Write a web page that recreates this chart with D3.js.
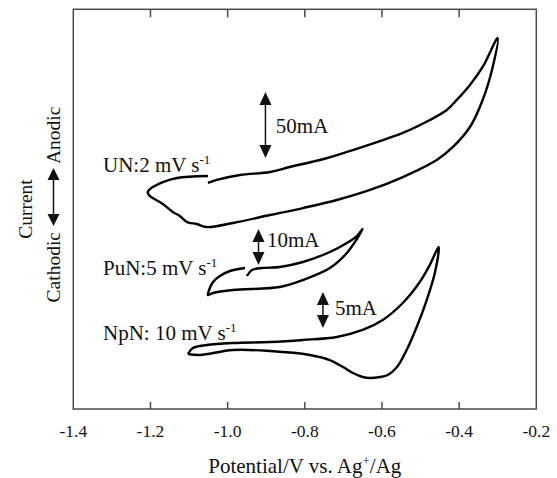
<!DOCTYPE html>
<html lang="en">
<head>
<meta charset="utf-8">
<title>Cyclic voltammograms: UN, PuN, NpN</title>
<style>
  body { margin: 0; background: #fff; }
  text { font-family: "Liberation Serif", "Times New Roman", serif; fill: #111; }
</style>
</head>
<body>
<div id="chart"></div>
<script src="https://d3js.org/d3.v7.min.js"></script>
<script>
// x axis
var potTicks = [-1.4, -1.2, -1.0, -0.8, -0.6, -0.4, -0.2];
var tickLabels = ['-1.4', '-1.2', '-1.0', '-0.8', '-0.6', '-0.4', '-0.2'];

// UN, 2 mV/s  (potential V, current mA from an arbitrary zero)
var unV = [-1.051, -1.028, -0.968, -0.890, -0.839, -0.761, -0.691, -0.613, -0.546, -0.476, -0.432, -0.406, -0.372, -0.339, -0.300,
           -0.313, -0.339, -0.372, -0.416, -0.458, -0.546, -0.631, -0.717, -0.805, -0.890, -0.986, -1.054, -1.080, -1.105, -1.124,
           -1.142, -1.168, -1.194, -1.204, -1.207, -1.201, -1.194, -1.168, -1.131, -1.051];
var unI = [12.9, 15.2, 18.9, 21.2, 25.0, 30.3, 36.4, 43.9, 50.8, 60.6, 68.2, 75.8, 87.1, 100.8, 122.7,
           100.8, 75.8, 55.3, 40.2, 30.3, 17.4, 7.6, 0, -6.1, -11.4, -17.4, -20.5, -18.2, -16.7, -12.1,
           -9.1, -3.0, 1.5, 3.8, 6.1, 8.3, 9.8, 13.6, 16.7, 18.2];

// PuN, 5 mV/s
var puV = [-0.950, -0.937, -0.911, -0.865, -0.805, -0.735, -0.691, -0.665, -0.650,
           -0.665, -0.691, -0.735, -0.805, -0.865, -0.986, -1.038, -1.051,
           -1.048, -1.038, -1.020, -0.994, -0.955];
var puI = [1.11, 2.78, 3.33, 3.61, 5.0, 7.78, 10.28, 12.22, 14.17,
           11.39, 7.5, 3.33, 0, -1.94, -2.78, -3.61, -4.17,
           -2.78, -0.56, 1.11, 2.5, 3.33];

// NpN, 10 mV/s
var npV = [-1.103, -1.090, -1.054, -0.986, -0.890, -0.805, -0.717, -0.650, -0.598, -0.546, -0.502, -0.476, -0.453,
           -0.463, -0.484, -0.510, -0.536, -0.561, -0.585, -0.605, -0.631, -0.650, -0.675, -0.701, -0.735, -0.787,
           -0.890, -0.986, -1.072, -1.103];
var npI = [-0.56, 0.28, 0.69, 0.97, 1.11, 1.39, 1.81, 2.78, 4.17, 6.53, 9.44, 11.81, 14.31,
           10.69, 6.94, 3.19, 0, -2.36, -3.47, -3.75, -3.89, -3.75, -3.19, -2.36, -1.39, -0.69,
           -0.14, 0, -0.69, -0.56];

var width = 557, height = 478;
var plotL = 73.3, plotR = 536.3, plotT = 9.3, plotB = 409;

var svg = d3.select('#chart').append('svg')
  .attr('width', width)
  .attr('height', height);

var x = d3.scaleLinear().domain([-1.4, -0.2]).range([plotL, plotR]);

// each trace is offset on the page and has its own current scale
var unY = d3.scaleLinear().domain([0, 50]).range([200, 134]);
var puY = d3.scaleLinear().domain([0, 10]).range([280, 244]);
var npY = d3.scaleLinear().domain([0, 5]).range([350, 314]);

var frameColor = '#4a4a4a';

svg.append('rect')
  .attr('x', plotL).attr('y', plotT)
  .attr('width', plotR - plotL).attr('height', plotB - plotT)
  .attr('fill', 'none')
  .attr('stroke', frameColor)
  .attr('stroke-width', 1.5);

// inward ticks, bottom and top
var inner = potTicks.slice(1, -1);
svg.selectAll('.tickb').data(inner).enter().append('line')
  .attr('x1', function(d) { return x(d); }).attr('x2', function(d) { return x(d); })
  .attr('y1', plotB).attr('y2', plotB - 7)
  .attr('stroke', frameColor).attr('stroke-width', 1.5);
svg.selectAll('.tickt').data(inner).enter().append('line')
  .attr('x1', function(d) { return x(d); }).attr('x2', function(d) { return x(d); })
  .attr('y1', plotT).attr('y2', plotT + 8)
  .attr('stroke', frameColor).attr('stroke-width', 1.5);

svg.selectAll('.ticklabel').data(potTicks).enter().append('text')
  .attr('x', function(d) { return x(d); })
  .attr('y', 437)
  .attr('text-anchor', 'middle')
  .style('font-size', '17.5px')
  .text(function(d, i) { return tickLabels[i]; });

// x title
var xt = svg.append('text')
  .attr('x', (plotL + plotR) / 2).attr('y', 473)
  .attr('text-anchor', 'middle')
  .style('font-size', '21px');
xt.append('tspan').text('Potential/V vs. Ag');
xt.append('tspan').attr('dy', -8).style('font-size', '13px').text('+');
xt.append('tspan').attr('dy', 8).text('/Ag');

// y title
svg.append('text')
  .attr('transform', 'translate(32,209) rotate(-90)')
  .attr('text-anchor', 'middle')
  .style('font-size', '19.5px')
  .text('Current');

var yt = svg.append('g').attr('transform', 'translate(60,197) rotate(-90)');
yt.append('text').attr('x', -35).attr('text-anchor', 'end').style('font-size', '19.5px').text('Cathodic');
yt.append('text').attr('x', 33).attr('text-anchor', 'start').style('font-size', '19.5px').text('Anodic');
yt.append('line').attr('x1', -22).attr('x2', 22).attr('y1', -6.5).attr('y2', -6.5)
  .attr('stroke', '#111').attr('stroke-width', 1.5);
yt.append('path').attr('d', 'M-29,-6.5 L-17,-12.5 L-17,-0.5 Z').attr('fill', '#111');
yt.append('path').attr('d', 'M29,-6.5 L17,-12.5 L17,-0.5 Z').attr('fill', '#111');

// traces
function trace(vs, is, yScale, curve) {
  var pts = vs.map(function(v, i) { return [v, is[i]]; });
  var line = d3.line()
    .x(function(d) { return x(d[0]); })
    .y(function(d) { return yScale(d[1]); })
    .curve(curve);
  svg.append('path')
    .datum(pts)
    .attr('d', line)
    .attr('fill', 'none')
    .attr('stroke', '#000')
    .attr('stroke-width', 2.4)
    .attr('stroke-linejoin', 'round');
}
trace(unV, unI, unY, d3.curveCatmullRom.alpha(0.5));
trace(puV, puI, puY, d3.curveCatmullRom.alpha(0.5));
trace(npV, npI, npY, d3.curveCatmullRom.alpha(0.5));

// scale bars
function scaleBar(v, i0, i1, yScale) {
  var cx = x(v), y0 = yScale(i1), y1 = yScale(i0);
  svg.append('line')
    .attr('x1', cx).attr('x2', cx).attr('y1', y0 + 10).attr('y2', y1 - 10)
    .attr('stroke', '#111').attr('stroke-width', 1.5);
  svg.append('path')
    .attr('d', 'M' + cx + ',' + y0 + ' L' + (cx - 6) + ',' + (y0 + 13) + ' L' + (cx + 6) + ',' + (y0 + 13) + ' Z')
    .attr('fill', '#111');
  svg.append('path')
    .attr('d', 'M' + cx + ',' + y1 + ' L' + (cx - 6) + ',' + (y1 - 13) + ' L' + (cx + 6) + ',' + (y1 - 13) + ' Z')
    .attr('fill', '#111');
}
scaleBar(-0.902, 31.8, 81.8, unY);
scaleBar(-0.920, 4.2, 14.2, puY);
scaleBar(-0.753, 3.06, 8.06, npY);

function label(v, i, yScale, main, sup) {
  var t = svg.append('text')
    .attr('x', x(v)).attr('y', yScale(i))
    .style('font-size', '21px');
  t.append('tspan').text(main);
  if (sup) {
    t.append('tspan').attr('dy', -8).style('font-size', '13px').text(sup);
  }
}
label(-1.323, 21.2, unY, 'UN:2 mV s', '-1');
label(-0.875, 50.8, unY, '50mA');
label(-1.323, 1.39, puY, 'PuN:5 mV s', '-1');
label(-0.898, 9.17, puY, '10mA');
label(-1.323, 1.39, npY, 'NpN: 10 mV s', '-1');
label(-0.722, 4.86, npY, '5mA');
</script>
</body>
</html>
